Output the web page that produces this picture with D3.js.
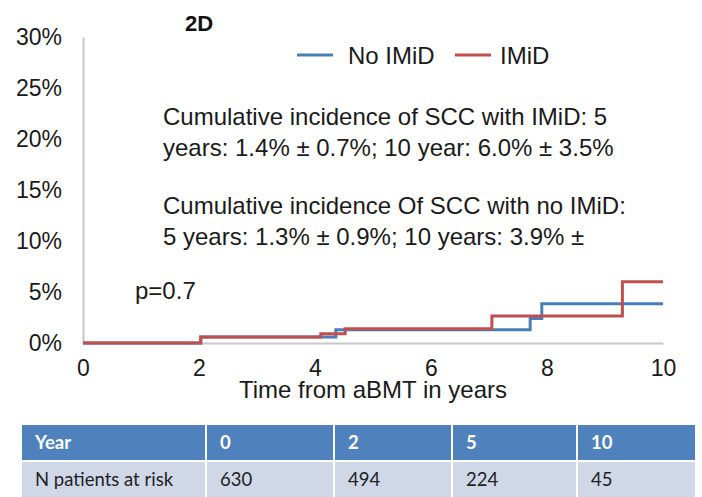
<!DOCTYPE html>
<html>
<head>
<meta charset="utf-8">
<script src="https://cdn.jsdelivr.net/npm/d3@7"></script>
<style>
  body { margin: 0; background: #fff; }
  svg { display: block; font-family: "Liberation Sans", Arial, sans-serif; }
</style>
</head>
<body>
<svg id="chart" width="702" height="497"></svg>
<script>
// cumulative incidence steps (years, %)
var no_imid_years = [0, 2.03, 4.36, 7.71, 7.91, 10];
var no_imid_values = [0, 0.6, 1.3, 2.4, 3.85, 3.85];
var imid_years = [0, 2.03, 4.10, 4.52, 7.05, 9.30, 10];
var imid_values = [0, 0.6, 0.9, 1.4, 2.65, 6.0, 6.0];

var y_ticks = [0, 5, 10, 15, 20, 25, 30];
var x_ticks = [0, 2, 4, 6, 8, 10];

var table_header = ["Year", "0", "2", "5", "10"];
var table_row = ["N patients at risk", "630", "494", "224", "45"];

var svg = d3.select("#chart");

var blue = "#4a7ebb", red = "#c0504d", grid = "#c8c8c8";
var font = "Liberation Sans, Arial, sans-serif";

var x = d3.scaleLinear().domain([0, 10]).range([83, 663]);
var y = d3.scaleLinear().domain([0, 30]).range([343, 37]);

// y axis
var y_axis = svg.append("g")
    .attr("transform", "translate(83,0)")
    .call(d3.axisLeft(y).tickValues(y_ticks).tickSize(0).tickSizeOuter(0)
        .tickPadding(21).tickFormat(d => d + "%"));
y_axis.select(".domain").attr("stroke", grid).attr("stroke-width", 2);
y_axis.selectAll("text").attr("font-size", "23px").attr("fill", "#1a1a1a")
    .attr("font-family", font);

// x axis
var x_axis = svg.append("g")
    .attr("transform", "translate(0,343)")
    .call(d3.axisBottom(x).tickValues(x_ticks).tickSize(0).tickSizeOuter(0).tickPadding(17));
x_axis.select(".domain").attr("stroke", grid).attr("stroke-width", 2);
x_axis.selectAll("text").attr("font-size", "23px").attr("fill", "#1a1a1a")
    .attr("font-family", font);

svg.append("text")
    .attr("x", 373).attr("y", 398)
    .attr("text-anchor", "middle")
    .attr("font-size", "24px").attr("fill", "#1a1a1a")
    .text("Time from aBMT in years");

// step lines
var step_line = d3.line()
    .x(d => x(d[0]))
    .y(d => y(d[1]))
    .curve(d3.curveStepAfter);

svg.append("path")
    .datum(d3.zip(no_imid_years, no_imid_values))
    .attr("d", step_line)
    .attr("fill", "none").attr("stroke", blue).attr("stroke-width", 3);

svg.append("path")
    .datum(d3.zip(imid_years, imid_values))
    .attr("d", step_line)
    .attr("fill", "none").attr("stroke", red).attr("stroke-width", 3);

// title
svg.append("text")
    .attr("x", 185).attr("y", 31)
    .attr("font-size", "22px").attr("font-weight", "bold").attr("fill", "#111")
    .text("2D");

// legend
var legend = [
    {name: "No IMiD", color: blue, x: 297},
    {name: "IMiD", color: red, x: 455}
];
legend.forEach(function (l) {
    svg.append("line")
        .attr("x1", l.x).attr("x2", l.x + 36)
        .attr("y1", 55).attr("y2", 55)
        .attr("stroke", l.color).attr("stroke-width", 3);
    svg.append("text")
        .attr("x", l.x + (l.name == "IMiD" ? 45 : 51)).attr("y", 64)
        .attr("font-size", "24px").attr("fill", "#1a1a1a")
        .text(l.name);
});

// annotation text
var notes = [
    ["Cumulative incidence of SCC with IMiD: 5", 125],
    ["years: 1.4% \u00b1 0.7%; 10 year: 6.0% \u00b1 3.5%", 156],
    ["Cumulative incidence Of SCC with no IMiD:", 214],
    ["5 years: 1.3% \u00b1 0.9%; 10 years: 3.9% \u00b1", 245]
];
notes.forEach(function (n) {
    svg.append("text")
        .attr("x", 163).attr("y", n[1])
        .attr("font-size", "24px").attr("fill", "#1a1a1a")
        .text(n[0]);
});

svg.append("text")
    .attr("x", 135).attr("y", 299)
    .attr("font-size", "24px").attr("fill", "#1a1a1a")
    .text("p=0.7");

// at-risk table
var col_x = [22, 207, 335, 453, 578, 697];
var rows = [
    {cells: table_header, top: 425, h: 35, fill: "#4f81bd", color: "#fff", weight: "bold"},
    {cells: table_row, top: 462, h: 35, fill: "#d0d8e8", color: "#222", weight: "normal"}
];
rows.forEach(function (r) {
    r.cells.forEach(function (c, i) {
        svg.append("rect")
            .attr("x", col_x[i]).attr("y", r.top)
            .attr("width", col_x[i + 1] - col_x[i] - 2).attr("height", r.h)
            .attr("fill", r.fill);
        svg.append("text")
            .attr("x", col_x[i] + 13).attr("y", r.top + r.h / 2 + 6)
            .attr("font-family", "Lato, 'Open Sans', sans-serif")
            .attr("font-size", "18.5px").attr("font-weight", r.weight)
            .attr("fill", r.color)
            .text(c);
    });
});
</script>
</body>
</html>
